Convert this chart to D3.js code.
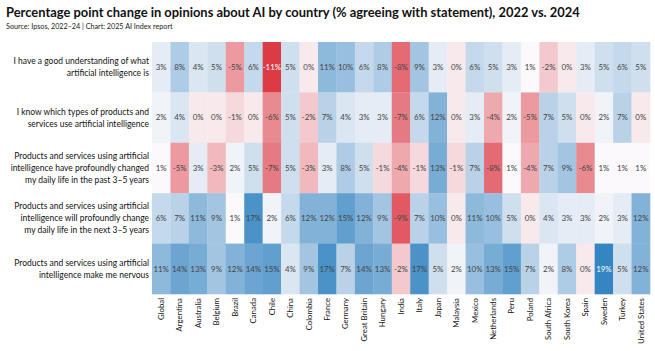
<!DOCTYPE html>
<html><head><meta charset="utf-8">
<script src="https://cdn.jsdelivr.net/npm/d3@7"></script>
<style>
body{margin:0;background:#fff;}
svg{display:block;}
</style></head>
<body><svg id="c" width="655" height="351"></svg>
<script>
const countries = ["Global","Argentina","Australia","Belgium","Brazil","Canada","Chile","China","Colombia","France","Germany","Great Britain","Hungary","India","Italy","Japan","Malaysia","Mexico","Netherlands","Peru","Poland","South Africa","South Korea","Spain","Sweden","Turkey","United States"];
const statements = [
  ["I have a good understanding of what","artificial intelligence is"],
  ["I know which types of products and","services use artificial intelligence"],
  ["Products and services using artificial","intelligence have profoundly changed","my daily life in the past 3–5 years"],
  ["Products and services using artificial","intelligence will profoundly change","my daily life in the next 3–5 years"],
  ["Products and services using artificial","intelligence make me nervous"]
];
const understand = [3,8,4,5,-5,6,-11,5,0,11,10,6,8,-8,9,3,0,6,5,3,1,-2,0,3,5,6,5];
const knowProducts = [2,4,0,0,-1,0,-6,5,-2,7,4,3,3,-7,6,12,0,3,-4,2,-5,7,5,0,2,7,0];
const changedPast = [1,-5,3,-3,2,5,-7,5,-3,3,8,5,-1,-4,-1,13,-1,7,-8,1,-4,7,9,-6,1,1,1];
const changeNext = [6,7,11,9,1,17,2,6,12,12,15,12,9,-9,7,10,0,11,10,5,0,4,3,3,2,3,12];
const nervous = [11,14,13,9,12,14,15,4,9,17,7,14,13,-2,17,5,2,10,13,15,7,2,8,0,19,5,12];
const rows = [understand, knowProducts, changedPast, changeNext, nervous];

// pick font: prefer a narrow sans if installed
const cv = document.createElement("canvas").getContext("2d");
function w(font, s) { cv.font = font; return cv.measureText(s).width; }
const testS = "Products and services using artificial";
const hasNarrow = w("20px 'Liberation Sans Narrow', monospace", testS) !== w("20px monospace", testS);
const FAM = hasNarrow ? "'Liberation Sans Narrow'" : "Lato";
function fitSize(str, target, weight) {
  const ww = w((weight || "normal") + " 20px " + FAM + ", sans-serif", str);
  return 20 * target / ww;
}

const svg = d3.select("#c").style("font-family", FAM + ", sans-serif");
const x = d3.scaleBand().domain(countries).range([152, 650]);
const y = d3.scaleBand().domain(d3.range(rows.length)).range([42, 294]);
const color = d3.scaleLinear().domain([-11, 1, 19]).range(["#dc3a45", "#fbf9fb", "#3585c2"]).interpolate(d3.interpolateRgb);

const titleStr = "Percentage point change in opinions about AI by country (% agreeing with statement), 2022 vs. 2024";
svg.append("text").attr("x", 6).attr("y", 17).attr("font-size", fitSize(titleStr, 576, "bold")).attr("font-weight", 700).attr("fill", "#111")
  .text(titleStr);
const srcStr = "Source: Ipsos, 2022–24 | Chart: 2025 AI Index report";
svg.append("text").attr("x", 6).attr("y", 29).attr("font-size", Math.max(7.2, fitSize(srcStr, 144))).attr("fill", "#222")
  .text(srcStr);

const cells = [];
rows.forEach((r, i) => r.forEach((v, j) => cells.push({i, c: countries[j], v})));

svg.append("g").selectAll("rect").data(cells).join("rect")
  .attr("x", d => x(d.c)).attr("y", d => y(d.i))
  .attr("width", x.bandwidth() + 0.3).attr("height", y.bandwidth() + 0.3)
  .attr("fill", d => color(d.v));

svg.append("g").selectAll("text").data(cells).join("text")
  .attr("x", d => x(d.c) + x.bandwidth()/2).attr("y", d => y(d.i) + y.bandwidth()/2)
  .attr("dy", "0.35em").attr("text-anchor", "middle").attr("font-size", 7.9)
  .attr("fill", d => (d.v >= 18 || d.v <= -10) ? "#fff" : "#444")
  .text(d => d.v + "%");

// row labels
const rowSize = Math.min(11.5, fitSize(statements[0][0], 136));
const rl = svg.append("g");
statements.forEach((lines, i) => {
  const cy = y(i) + y.bandwidth()/2;
  const lh = 12;
  lines.forEach((ln, k) => {
    rl.append("text").attr("text-anchor", "end").attr("font-size", rowSize).attr("fill", "#111")
      .attr("x", 149).attr("y", cy + (k - (lines.length-1)/2) * lh).attr("dy", "0.35em").text(ln);
  });
});

// column labels via axis
const colSize = Math.min(11, fitSize("United States", 46));
const ax = svg.append("g").attr("transform", "translate(0,294)")
  .call(d3.axisBottom(x).tickSize(0).tickPadding(0));
ax.select(".domain").remove();
ax.selectAll("text")
  .attr("font-size", colSize).attr("fill", "#111").attr("font-family", FAM + ", sans-serif")
  .attr("transform", "rotate(-90)").attr("text-anchor", "end")
  .attr("x", -4).attr("y", 0).attr("dy", "0.35em");
</script></body></html>
